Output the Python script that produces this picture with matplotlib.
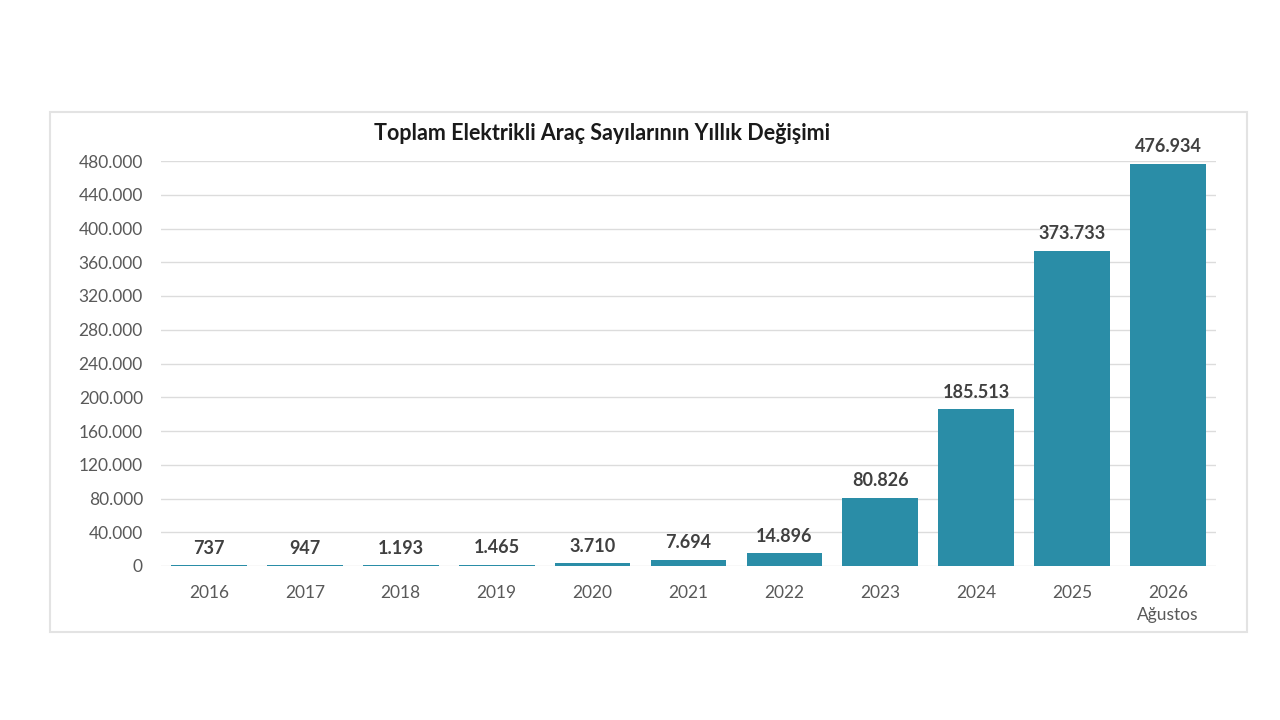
import matplotlib
matplotlib.use("Agg")
import matplotlib.pyplot as plt
from matplotlib.patches import Rectangle
from matplotlib.ticker import FuncFormatter

plt.rcParams['font.family'] = ['Lato', 'DejaVu Sans']

categories = ["2016", "2017", "2018", "2019", "2020", "2021", "2022", "2023", "2024", "2025", "2026\nAğustos"]
values = [737, 947, 1193, 1465, 3710, 7694, 14896, 80826, 185513, 373733, 476934]
yticks = list(range(0, 480001, 40000))
title = "Toplam Elektrikli Araç Sayılarının Yıllık Değişimi"

def tr_fmt(v):
    return f"{int(v):,}".replace(",", ".")

fig = plt.figure(figsize=(12.8, 7.2), dpi=100)
fig.patch.set_facecolor("white")
frame = Rectangle((50/1280, 1-632/720), 1197/1280, 520/720, transform=fig.transFigure,
                  facecolor="white", edgecolor="#E3E3E3", linewidth=1.5, zorder=-10)
fig.add_artist(frame)

ax = fig.add_axes([161/1280, 1-566/720, 1055/1280, 405/720])
ax.set_zorder(5)
ax.set_facecolor("none")

x = list(range(len(categories)))
ax.bar(x, values, width=0.79, color="#2A8DA7", zorder=2)
for xi, v in zip(x, values):
    ax.annotate(tr_fmt(v), (xi, v), xytext=(0, 6), textcoords="offset points",
                ha="center", va="bottom", fontsize=13, fontweight="bold", color="#404040",
                annotation_clip=False)

ax.set_xlim(-0.5, len(categories) - 0.5)
ax.set_ylim(0, 480000)
ax.set_yticks(yticks)
ax.yaxis.set_major_formatter(FuncFormatter(lambda v, p: tr_fmt(v)))
ax.set_xticks(x)
ax.set_xticklabels(categories, linespacing=1.45)
ax.grid(axis="y", color="#DCDCDC", linewidth=1, zorder=1)
ax.set_axisbelow(True)
for s in ax.spines.values():
    s.set_visible(False)
ax.tick_params(axis="both", length=0, labelsize=12.5, colors="#595959")
ax.tick_params(axis="x", pad=14)
ax.tick_params(axis="y", pad=13)

fig.text(602/1280, 1-133/720, title, ha="center", va="center", fontsize=15.5,
         fontweight="bold", color="#1A1A1A", zorder=10)

fig.savefig("out.png", dpi=100)
